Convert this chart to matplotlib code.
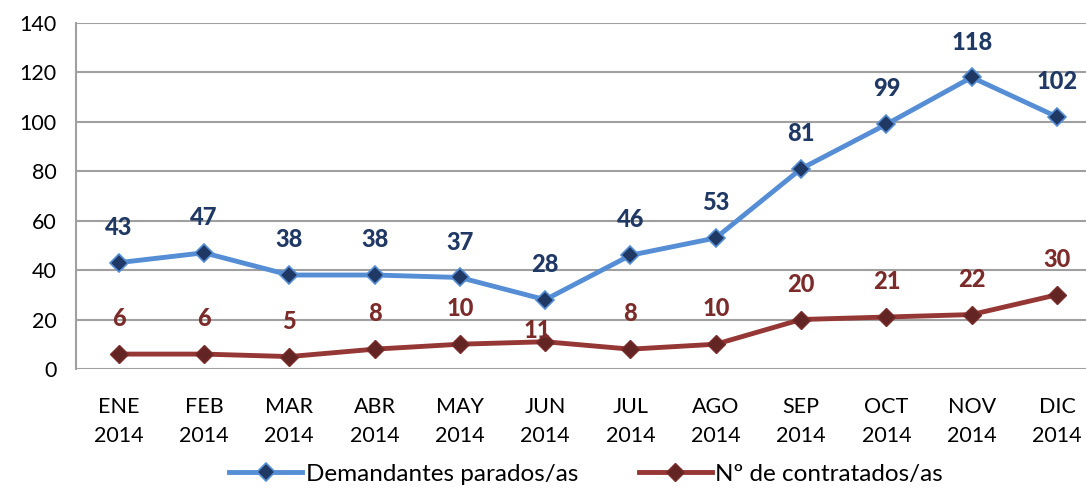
import matplotlib
matplotlib.use("Agg")
import matplotlib.pyplot as plt

# -----------------------------
# Data
# -----------------------------
months = ["ENE\n2014", "FEB\n2014", "MAR\n2014", "ABR\n2014", "MAY\n2014", "JUN\n2014",
          "JUL\n2014", "AGO\n2014", "SEP\n2014", "OCT\n2014", "NOV\n2014", "DIC\n2014"]
parados = [43, 47, 38, 38, 37, 28, 46, 53, 81, 99, 118, 102]
contratados = [6, 6, 5, 8, 10, 11, 8, 10, 20, 21, 22, 30]

plt.rcParams["font.family"] = ["Lato", "DejaVu Sans"]

fig = plt.figure(figsize=(10.86, 4.88), dpi=100)
ax = fig.add_axes([0.070, 0.244, 0.930, 0.709])

x = list(range(len(months)))
ax.plot(x, parados, color="#558ED5", lw=3.5, marker="D", ms=9,
        mfc="#1F3864", mec="#558ED5", mew=1.2, label="Demandantes parados/as", zorder=3)
ax.plot(x, contratados, color="#953735", lw=3.5, marker="D", ms=9,
        mfc="#632523", mec="#7B2C2A", mew=1, label="Nº de contratados/as", zorder=3)

# data labels
for i, v in enumerate(parados):
    ax.annotate(str(v), (i, v), xytext=(0, 20), textcoords="offset points",
                ha="center", va="baseline", fontsize=17, fontweight="black", color="#1F3864")
for i, v in enumerate(contratados):
    off = (-6, 3) if i == 5 else (0, 20)
    ax.annotate(str(v), (i, v), xytext=off, textcoords="offset points",
                ha="center", va="baseline", fontsize=17, fontweight="black", color="#7B2C2A")

ax.set_xlim(-0.5, 11.34)
ax.set_ylim(0, 140)
ax.set_yticks(range(0, 141, 20))
ax.set_xticks(x)
ax.set_xticklabels(months, fontsize=15.5, linespacing=1.6)
ax.tick_params(axis="y", labelsize=15.5, length=0, pad=14)
ax.tick_params(axis="x", length=0, pad=20)
ax.grid(axis="y", color="#A0A0A0", lw=1.5)
ax.set_axisbelow(True)
for s in ["top", "right", "bottom"]:
    ax.spines[s].set_visible(False)
ax.spines["left"].set_color("#A0A0A0")
ax.spines["left"].set_linewidth(1.5)

ax.legend(loc="center", bbox_to_anchor=(0.505, -0.305), ncol=2, frameon=False,
          fontsize=17.5, handlelength=3, columnspacing=2.5, handletextpad=0.15)

plt.savefig("out.png", dpi=100)
plt.close()
